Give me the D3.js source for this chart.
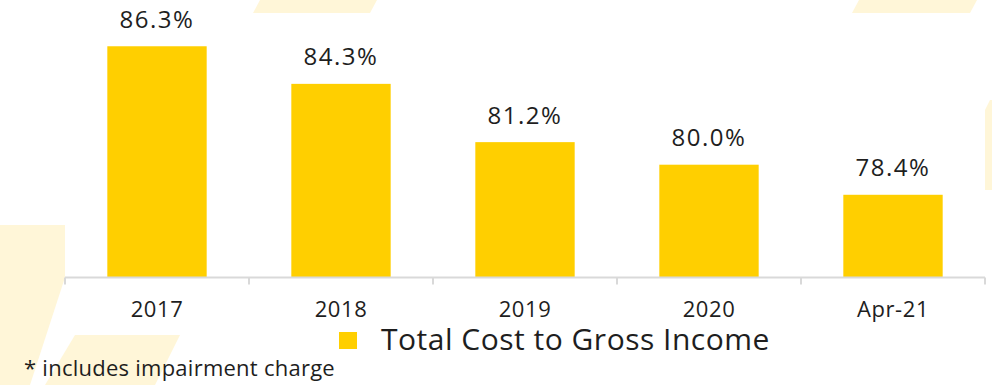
<!DOCTYPE html>
<html>
<head>
<meta charset="utf-8">
<script src="https://cdn.jsdelivr.net/npm/d3@7"></script>
<style>
  body { margin: 0; background: #fff; }
  svg { display: block; font-family: "Open Sans", sans-serif; }
</style>
</head>
<body>
<div id="chart"></div>
<script>
// data
var categories = ["2017", "2018", "2019", "2020", "Apr-21"];
var values = [86.3, 84.3, 81.2, 80.0, 78.4];
var seriesName = "Total Cost to Gross Income";
var footnote = "* includes impairment charge";

var width = 992, height = 385;
var margin = {top: 14, right: 7, bottom: 107.5, left: 65};
var plotW = width - margin.left - margin.right,
    plotH = height - margin.top - margin.bottom;

var svg = d3.select("#chart")
  .append("svg")
    .attr("width", width)
    .attr("height", height);

// faint background decorations
var deco = [
  [[260,0],[377,0],[370,13],[253,13]],
  [[859,0],[977,0],[970,13],[852,13]],
  [[990,100],[992,100],[992,190],[985,190],[985,110]],
  [[0,225],[70,225],[70,262],[30,385],[0,385]],
  [[75,335],[180,335],[155,385],[45,385]]
];
svg.selectAll("polygon.deco")
  .data(deco)
  .enter()
  .append("polygon")
    .attr("points", d => d.map(p => p.join(",")).join(" "))
    .attr("fill", "#fff6d8");

var g = svg.append("g")
  .attr("transform", "translate(" + margin.left + "," + margin.top + ")");

// plot area is white over the decorations
g.append("rect")
  .attr("width", plotW)
  .attr("height", plotH)
  .attr("fill", "#fff");

var x = d3.scaleBand()
  .domain(categories)
  .range([0, plotW])
  .paddingInner(0.46)
  .paddingOuter(0.23);

var y = d3.scaleLinear()
  .domain([74, 88])
  .range([plotH, plotH - 14 * 18.8]);

// bars
g.selectAll("rect.bar")
  .data(values)
  .enter()
  .append("rect")
    .attr("class", "bar")
    .attr("x", (d, i) => x(categories[i]))
    .attr("y", d => y(d))
    .attr("width", x.bandwidth())
    .attr("height", d => plotH - y(d))
    .attr("fill", "#ffcf00");

// value labels
g.selectAll("text.val")
  .data(values)
  .enter()
  .append("text")
    .attr("x", (d, i) => x(categories[i]) + x.bandwidth() / 2)
    .attr("y", d => y(d) - 18.5)
    .attr("text-anchor", "middle")
    .attr("font-size", "24px")
    .attr("letter-spacing", "1.5px")
    .attr("fill", "#1e1e1e")
    .text(d => d.toFixed(1) + "%");

// x axis with ticks at the band boundaries
var axis = g.append("g")
  .attr("transform", "translate(0," + plotH + ")");
axis.append("line")
  .attr("x1", 0).attr("x2", plotW)
  .attr("stroke", "#d9d9d9").attr("stroke-width", 2);
var step = x.step();
axis.selectAll("line.tick")
  .data(d3.range(categories.length + 1))
  .enter()
  .append("line")
    .attr("x1", i => i * step).attr("x2", i => i * step)
    .attr("y1", 0).attr("y2", 7)
    .attr("stroke", "#d9d9d9").attr("stroke-width", 2);
axis.selectAll("text")
  .data(categories)
  .enter()
  .append("text")
    .attr("x", d => x(d) + x.bandwidth() / 2)
    .attr("y", 39)
    .attr("text-anchor", "middle")
    .attr("font-size", "22px")
    .attr("letter-spacing", "0.6px")
    .attr("fill", "#1e1e1e")
    .text(d => d);

// legend
var legend = svg.append("g").attr("transform", "translate(339,332)");
legend.append("rect")
  .attr("width", 18).attr("height", 17)
  .attr("fill", "#ffcf00");
legend.append("text")
  .attr("x", 42)
  .attr("y", 18)
  .attr("font-size", "30px")
  .attr("letter-spacing", "0.5px")
  .attr("fill", "#1e1e1e")
  .text(seriesName);

// footnote
svg.append("text")
  .attr("x", 24)
  .attr("y", 376)
  .attr("font-size", "22px")
  .attr("letter-spacing", "0.25px")
  .attr("fill", "#1e1e1e")
  .text(footnote);
</script>
</body>
</html>
